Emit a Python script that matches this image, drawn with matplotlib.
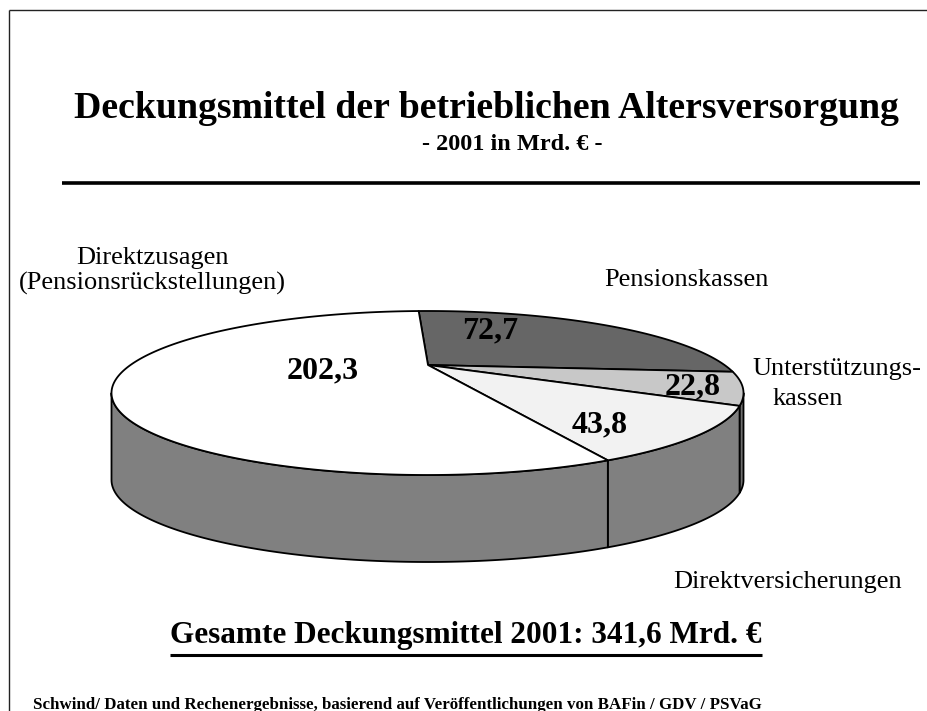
import numpy as np
import matplotlib
matplotlib.use("Agg")
import matplotlib.pyplot as plt
from matplotlib.patches import Polygon

# ---------------- data (slices listed clockwise, starting near 12 o'clock) ----------------
slice_names = ["Pensionskassen", "Unterstützungskassen", "Direktversicherungen", "Direktzusagen"]
slice_values = [72.7, 22.8, 43.8, 202.3]
value_texts = ["72,7", "22,8", "43,8", "202,3"]
category_lines = [["Pensionskassen"], ["Unterstützungs-", "kassen"], ["Direktversicherungen"],
                  ["Direktzusagen", "(Pensionsrückstellungen)"]]
title_text = "Deckungsmittel der betrieblichen Altersversorgung"
subtitle_text = "- 2001 in Mrd. € -"
total_text = "Gesamte Deckungsmittel 2001: 341,6 Mrd. €"
footer_text = "Schwind/ Daten und Rechenergebnisse, basierend auf Veröffentlichungen von BAFin / GDV / PSVaG"

# ---------------- style / layout ----------------
top_colors = ["#666666", "#C8C8C8", "#F2F2F2", "#FFFFFF"]
side_colors = ["#4D4D4D", "#6E6E6E", "#808080", "#808080"]
SERIF = ["Liberation Serif", "DejaVu Serif"]

W, H = 927, 711
cx, cy = 427.5, 393.0      # centre of the top ellipse (px)
rx, ry = 316.0, 82.0       # radii of the top ellipse (px)
apex = (428.0, 365.0)      # point where the slices meet (perspective)
depth = 87.0               # pie thickness (px)
start_angle = 91.6         # first boundary (degrees, ccw from 3 o'clock)

value_pos = [(490, 331), (693, 387), (600, 425), (323, 371)]
category_pos = [[(686, 280, "center")],
                [(752, 369, "left"), (808, 399, "center")],
                [(788, 582, "center")],
                [(152, 258, "center"), (152, 283, "center")]]

fig = plt.figure(figsize=(W / 100, H / 100), dpi=100)
ax = fig.add_axes([0, 0, 1, 1])
ax.set_xlim(0, W)
ax.set_ylim(H, 0)
ax.axis("off")


def ell(phi_deg, dz=0.0):
    p = np.radians(phi_deg)
    return np.column_stack([cx + rx * np.cos(p), cy - ry * np.sin(p) + dz])


total = float(np.sum(slice_values))
spans = np.array(slice_values) / total * 360.0
bounds = start_angle - np.concatenate([[0.0], np.cumsum(spans)])

LW = 1.3
# side walls (front half only: phi in [-180, 0] modulo 360)
for i in range(len(slice_values)):
    hi, lo = bounds[i], bounds[i + 1]
    for shift in (-360.0, 0.0, 360.0):
        a = max(lo, -180.0 + shift)
        b = min(hi, 0.0 + shift)
        if b - a > 1e-6:
            phis = np.linspace(a, b, 120)
            top = ell(phis)
            bot = ell(phis[::-1], depth)
            poly = Polygon(np.vstack([top, bot]), closed=True, facecolor=side_colors[i],
                           edgecolor="black", linewidth=LW, zorder=1, joinstyle="round")
            ax.add_patch(poly)

# top wedges
for i in range(len(slice_values)):
    hi, lo = bounds[i], bounds[i + 1]
    phis = np.linspace(hi, lo, max(int(abs(hi - lo) * 2), 10))
    pts = np.vstack([[apex], ell(phis)])
    ax.add_patch(Polygon(pts, closed=True, facecolor=top_colors[i], edgecolor="black",
                         linewidth=LW, zorder=2, joinstyle="round"))

# value labels
for txt, (x, y) in zip(value_texts, value_pos):
    ax.text(x, y, txt, family=SERIF, fontweight="bold", fontsize=23, ha="center", va="center", zorder=5)

# category labels
for lines, poss in zip(category_lines, category_pos):
    for line, (x, y, ha) in zip(lines, poss):
        ax.text(x, y, line, family=SERIF, fontsize=19, ha=ha, va="center", zorder=5)

# title block
ax.text(486, 109, title_text, family=SERIF, fontweight="bold", fontsize=27.2, ha="center", va="center")
ax.text(512, 144, subtitle_text, family=SERIF, fontweight="bold", fontsize=17.5, ha="center", va="center")
ax.plot([62, 920], [183, 183], color="black", linewidth=2.6, solid_capstyle="butt")

# frame
ax.plot([9, W + 5], [10, 10], color="#222222", linewidth=1.0, solid_capstyle="butt")
ax.plot([9, 9], [10, H + 5], color="#222222", linewidth=1.0, solid_capstyle="butt")

# total with underline
t = ax.text(466, 636, total_text, family=SERIF, fontweight="bold", fontsize=22.5, ha="center", va="center")
fig.canvas.draw()
bb = t.get_window_extent(renderer=fig.canvas.get_renderer())
x0, x1 = bb.x0, bb.x1
ax.plot([x0, x1], [655, 655], color="black", linewidth=2.2, solid_capstyle="butt")

# footer
ax.text(33, 705, footer_text, family=SERIF, fontweight="bold", fontsize=12.2, ha="left", va="center")

fig.savefig("out.png", dpi=100)
